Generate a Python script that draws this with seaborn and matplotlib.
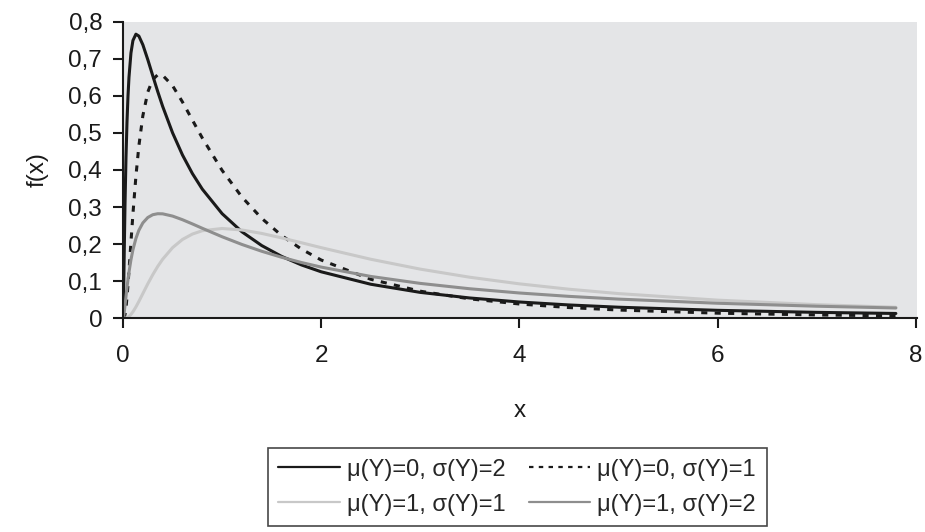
import matplotlib
matplotlib.use("Agg")
import matplotlib.pyplot as plt
import matplotlib.ticker as mticker
import seaborn as sns

# x positions
x_vals = [0.001, 0.002, 0.005, 0.01, 0.02, 0.03, 0.04, 0.05, 0.06, 0.08, 0.1, 0.13, 0.16,
          0.2, 0.25, 0.3, 0.35, 0.4, 0.5, 0.6, 0.7, 0.8, 1.0, 1.2, 1.4, 1.6, 1.8,
          2.0, 2.5, 3.0, 3.5, 4.0, 4.5, 5.0, 6.0, 7.0, 7.8]

# mu(Y)=0, sigma(Y)=2  (solid black)
f_a = [0.002, 0.009, 0.0505, 0.1406, 0.3074, 0.4347, 0.5289, 0.5986, 0.6499, 0.7158, 0.7495,
       0.7666, 0.7615, 0.7381, 0.6979, 0.6545, 0.6119, 0.5717, 0.5003, 0.4405, 0.3904,
       0.3483, 0.2821, 0.2331, 0.1959, 0.1668, 0.1437, 0.1251, 0.0915, 0.0695, 0.0544,
       0.0436, 0.0356, 0.0295, 0.0211, 0.0156, 0.0126]
# mu(Y)=0, sigma(Y)=1  (dotted black)
f_b = [0.0, 0.0, 0.0, 0.001, 0.0095, 0.0284, 0.0561, 0.0898, 0.1271, 0.2053, 0.2815,
       0.3829, 0.4651, 0.5463, 0.6104, 0.6442, 0.6569, 0.6555, 0.6275, 0.5836, 0.5348,
       0.4864, 0.3989, 0.3270, 0.2693, 0.2233, 0.1865, 0.1569, 0.1049, 0.0727, 0.0520,
       0.0382, 0.0286, 0.0219, 0.0134, 0.0086, 0.0062]
# mu(Y)=1, sigma(Y)=1  (light grey)
f_c = [0.0, 0.0, 0.0, 0.0, 0.0001, 0.0005, 0.0014, 0.0027, 0.0046, 0.0100, 0.0171,
       0.0302, 0.0451, 0.0663, 0.0926, 0.1172, 0.1395, 0.1590, 0.1903, 0.2124, 0.2270,
       0.2360, 0.2420, 0.2380, 0.2287, 0.2167, 0.2036, 0.1903, 0.1590, 0.1323, 0.1104,
       0.0926, 0.0781, 0.0663, 0.0486, 0.0364, 0.0293]
# mu(Y)=1, sigma(Y)=2  (mid grey)
f_d = [0.0, 0.0005, 0.0028, 0.0109, 0.0338, 0.0587, 0.0824, 0.1043, 0.1240, 0.1577, 0.1846,
       0.2152, 0.2372, 0.2571, 0.2717, 0.2792, 0.2819, 0.2816, 0.2755, 0.2657, 0.2544,
       0.2426, 0.2197, 0.1989, 0.1805, 0.1644, 0.1502, 0.1378, 0.1126, 0.0938, 0.0793,
       0.0679, 0.0588, 0.0514, 0.0402, 0.0322, 0.0274]

labels = ["μ(Y)=0, σ(Y)=2", "μ(Y)=0, σ(Y)=1", "μ(Y)=1, σ(Y)=1", "μ(Y)=1, σ(Y)=2"]
x_ticks = [0, 2, 4, 6, 8]
y_ticks = [0, 0.1, 0.2, 0.3, 0.4, 0.5, 0.6, 0.7, 0.8]

sns.set_theme(style="ticks")
plt.rcParams["font.family"] = ["Liberation Sans", "DejaVu Sans"]
ink = "#1a1a1a"

fig = plt.figure(figsize=(9.25, 5.32), dpi=100)
ax = fig.add_axes([0.133, 0.402, 0.858, 0.557])
ax.set_facecolor("#e4e5e7")

series = [
    (f_a, ink, "-"),
    (f_b, ink, (0, (2.0, 2.4))),
    (f_c, "#c8c8c8", "-"),
    (f_d, "#8e8e8e", "-"),
]
for (vals, col, ls), lab in zip(series, labels):
    sns.lineplot(x=x_vals, y=vals, ax=ax, color=col, linestyle=ls, linewidth=2.2,
                 label=lab, legend=False)

ax.set_xlim(0, 8.01)
ax.set_ylim(0, 0.8)
ax.set_xticks(x_ticks)
ax.set_yticks(y_ticks)
ax.yaxis.set_major_formatter(mticker.FuncFormatter(
    lambda v, p: "0" if v == 0 else f"{v:.1f}".replace(".", ",")))
ax.xaxis.set_major_formatter(mticker.FuncFormatter(lambda v, p: f"{v:.0f}"))

for s in ["top", "right"]:
    ax.spines[s].set_visible(False)
for s in ["left", "bottom"]:
    ax.spines[s].set_color(ink)
    ax.spines[s].set_linewidth(1.5)
ax.tick_params(direction="out", length=7, width=1.5, color=ink,
               labelsize=17.5, labelcolor=ink)
ax.tick_params(axis="y", pad=8)
ax.tick_params(axis="x", pad=12)

ax.set_xlabel("x", fontsize=17.5, color=ink, labelpad=24)
ax.set_ylabel("f(x)", fontsize=17.5, color=ink, labelpad=14)

handles, lbls = ax.get_legend_handles_labels()
order = [0, 2, 1, 3]
leg = fig.legend([handles[i] for i in order], [lbls[i] for i in order],
                 loc="upper center", bbox_to_anchor=(0.559, 0.158), ncol=2,
                 fontsize=17, frameon=True, fancybox=False, edgecolor=ink,
                 handlelength=2.6, columnspacing=1.0, handletextpad=0.3,
                 borderpad=0.45, labelspacing=0.55, borderaxespad=0)
leg.get_frame().set_linewidth(1.2)
for ln in leg.get_lines():
    ln.set_linewidth(1.6)

fig.savefig("out.png", dpi=100)
